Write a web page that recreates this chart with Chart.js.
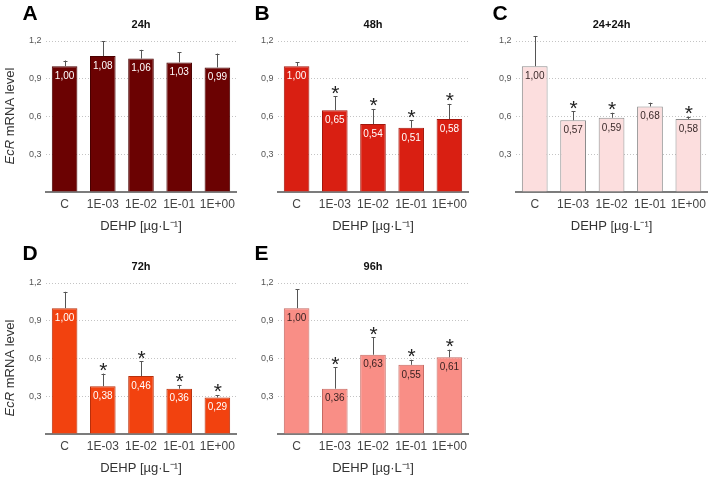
<!DOCTYPE html>
<html>
<head>
<meta charset="utf-8">
<script src="https://cdn.jsdelivr.net/npm/chart.js@4.4.1/dist/chart.umd.min.js"></script>
<style>
  html, body { margin: 0; padding: 0; background: #fff; }
  body { width: 711px; height: 482px; position: relative; overflow: hidden; }
  canvas { position: absolute; }
</style>
</head>
<body>
<canvas id="cA" width="240" height="240"></canvas>
<canvas id="cB" width="240" height="240"></canvas>
<canvas id="cC" width="241" height="240"></canvas>
<canvas id="cD" width="240" height="240"></canvas>
<canvas id="cE" width="240" height="240"></canvas>
<script>
// ---- data ----
const categories = ['C', '1E-03', '1E-02', '1E-01', '1E+00'];
const yTickValues = [0.3, 0.6, 0.9, 1.2];

const titleA = '24h';
const valuesA = [1.00, 1.08, 1.06, 1.03, 0.99];
const errorsA = [0.045, 0.12, 0.07, 0.08, 0.11];
const starsA  = [false, false, false, false, false];

const titleB = '48h';
const valuesB = [1.00, 0.65, 0.54, 0.51, 0.58];
const errorsB = [0.03, 0.11, 0.12, 0.06, 0.12];
const starsB  = [false, true, true, true, true];

const titleC = '24+24h';
const valuesC = [1.00, 0.57, 0.59, 0.68, 0.58];
const errorsC = [0.24, 0.07, 0.04, 0.03, 0.02];
const starsC  = [false, true, true, false, true];

const titleD = '72h';
const valuesD = [1.00, 0.38, 0.46, 0.36, 0.29];
const errorsD = [0.13, 0.10, 0.12, 0.03, 0.02];
const starsD  = [false, true, true, true, true];

const titleE = '96h';
const valuesE = [1.00, 0.36, 0.63, 0.55, 0.61];
const errorsE = [0.15, 0.17, 0.14, 0.04, 0.06];
const starsE  = [false, true, true, true, true];

const xAxisTitle = 'DEHP [µg·L⁻¹]';
const yTitleItalic = 'EcR';
const yTitleRest = ' mRNA level';

// ---- layout / style ----
const FONT = "'Liberation Sans', Arial, Helvetica, sans-serif";

const panels = [
  { id: 'cA', letter: 'A', title: titleA, values: valuesA, errors: errorsA, stars: starsA,
    left: 0, top: 0, fill: '#6b0202', border: '#4a0000', label: '#ffffff', yTitle: true, letterY: 19.5, yTitleC: 116 },
  { id: 'cB', letter: 'B', title: titleB, values: valuesB, errors: errorsB, stars: starsB,
    left: 231.5, top: 0, fill: '#d91f12', border: '#a3170d', label: '#ffffff', yTitle: false, letterY: 19.5 },
  { id: 'cC', letter: 'C', title: titleC, values: valuesC, errors: errorsC, stars: starsC,
    left: 470, top: 0, fill: '#fcdede', border: '#8c8c8c', label: '#3a2a2a', yTitle: false, letterY: 19.5 },
  { id: 'cD', letter: 'D', title: titleD, values: valuesD, errors: errorsD, stars: starsD,
    left: 0, top: 242, fill: '#f2420f', border: '#b8300c', label: '#ffffff', yTitle: true, letterY: 18, yTitleC: 126 },
  { id: 'cE', letter: 'E', title: titleE, values: valuesE, errors: errorsE, stars: starsE,
    left: 231.5, top: 242, fill: '#f98e86', border: '#c56a63', label: '#3a2222', yTitle: false, letterY: 18 }
];

const decoPlugin = {
  id: 'deco',
  afterDatasetsDraw(chart, args, opts) {
    const ctx = chart.ctx;
    const ys = chart.scales.y;
    const meta = chart.getDatasetMeta(0);
    ctx.save();
    meta.data.forEach((el, i) => {
      const v = opts.values[i];
      const top = el.y;
      const eTop = ys.getPixelForValue(v + opts.errors[i]);
      // error bar
      ctx.strokeStyle = '#555';
      ctx.lineWidth = 1;
      ctx.beginPath();
      ctx.moveTo(Math.round(el.x) + 0.5, top);
      ctx.lineTo(Math.round(el.x) + 0.5, eTop);
      ctx.moveTo(Math.round(el.x) - 1.5, Math.round(eTop) + 0.5);
      ctx.lineTo(Math.round(el.x) + 2.5, Math.round(eTop) + 0.5);
      ctx.stroke();
      // value label
      ctx.fillStyle = opts.label;
      ctx.font = '10px ' + FONT;
      ctx.textAlign = 'center';
      ctx.textBaseline = 'middle';
      ctx.fillText(v.toFixed(2).replace('.', ','), el.x, top + 10);
      // star
      if (opts.stars[i]) {
        ctx.fillStyle = '#222';
        ctx.font = '21px ' + FONT;
        ctx.textBaseline = 'alphabetic';
        ctx.fillText('*', el.x + 0.5, eTop + 3.5);
      }
    });
    ctx.restore();
  },
  afterDraw(chart, args, opts) {
    const ctx = chart.ctx;
    const ca = chart.chartArea;
    const cx = (ca.left + ca.right) / 2;
    ctx.save();
    // panel letter
    ctx.fillStyle = '#000';
    ctx.font = 'bold 21px ' + FONT;
    ctx.textAlign = 'left';
    ctx.textBaseline = 'alphabetic';
    ctx.fillText(opts.letter, 22.5, opts.letterY);
    // title
    ctx.font = 'bold 11px ' + FONT;
    ctx.textAlign = 'center';
    ctx.textBaseline = 'middle';
    ctx.fillStyle = '#111';
    ctx.fillText(opts.title, cx, 24.5);
    // x axis title
    ctx.font = '13px ' + FONT;
    ctx.fillStyle = '#333';
    ctx.fillText(xAxisTitle, cx, 226);
    // y axis title
    if (opts.yTitle) {
      ctx.translate(10, opts.yTitleC);
      ctx.rotate(-Math.PI / 2);
      ctx.font = 'italic 13px ' + FONT;
      const w1 = ctx.measureText(yTitleItalic).width;
      ctx.font = '13px ' + FONT;
      const w2 = ctx.measureText(yTitleRest).width;
      const start = -(w1 + w2) / 2;
      ctx.textAlign = 'left';
      ctx.font = 'italic 13px ' + FONT;
      ctx.fillText(yTitleItalic, start, 0);
      ctx.font = '13px ' + FONT;
      ctx.fillText(yTitleRest, start + w1, 0);
    }
    ctx.restore();
  }
};

panels.forEach(p => {
  const cv = document.getElementById(p.id);
  cv.style.left = p.left + 'px';
  cv.style.top = p.top + 'px';
  new Chart(cv, {
    type: 'bar',
    data: {
      labels: categories,
      datasets: [{
        data: p.values,
        backgroundColor: p.fill,
        borderColor: p.border,
        borderWidth: 1,
        barPercentage: 0.67,
        categoryPercentage: 1.0
      }]
    },
    options: {
      responsive: false,
      animation: false,
      devicePixelRatio: 1,
      layout: { padding: { top: 41, right: 1, bottom: 0, left: 0 } },
      plugins: {
        legend: { display: false },
        tooltip: { enabled: false },
        deco: { letter: p.letter, title: p.title, values: p.values, errors: p.errors,
                stars: p.stars, label: p.label, yTitle: p.yTitle, letterY: p.letterY, yTitleC: p.yTitleC }
      },
      scales: {
        x: {
          afterFit(s) { s.height = 48; },
          grid: { display: false, drawTicks: false },
          border: { display: true, color: '#7c7c7c', width: 2 },
          ticks: { color: '#444', padding: 5, maxRotation: 0, minRotation: 0, autoSkip: false,
                   font: { family: FONT, size: 12 } }
        },
        y: {
          min: 0, max: 1.2,
          afterFit(s) { s.width = 45.5; },
          afterBuildTicks(s) { s.ticks = [{ value: 0 }].concat(yTickValues.map(v => ({ value: v }))); },
          grid: {
            drawTicks: false,
            color: c => (c.tick && c.tick.value === 0) ? 'rgba(0,0,0,0)' : '#c4c4c4',
            lineWidth: 1
          },
          border: { display: false, dash: [1, 2] },
          ticks: {
            color: '#555', padding: 4, font: { family: FONT, size: 9 },
            callback: v => v === 0 ? '' : v.toFixed(1).replace('.', ',')
          }
        }
      }
    },
    plugins: [decoPlugin]
  });
});
</script>
</body>
</html>
